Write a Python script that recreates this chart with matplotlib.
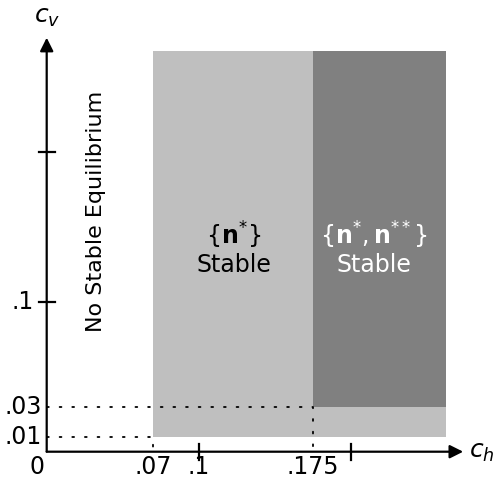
import matplotlib
matplotlib.use("Agg")
import matplotlib.pyplot as plt

plt.rcParams['font.family'] = ['DejaVu Sans']
plt.rcParams['mathtext.fontset'] = 'dejavusans'

# ---- data ----
x_label_vals = [0.07, 0.1, 0.175]
x_label_txt = ['.07', '.1', '.175']
x_tick_marks = [0.1, 0.2]
y_label_vals = [0.01, 0.03, 0.1]
y_label_txt = ['.01', '.03', '.1']
y_tick_marks = [0.1, 0.2]
x_axis_end = 0.274
y_axis_end = 0.276

# regions: (x0, x1, y0, y1)
light_region = (0.07, 0.2625, 0.01, 0.267)
dark_region = (0.175, 0.2625, 0.03, 0.267)
light_color = '#bfbfbf'
dark_color = '#808080'

# dotted guides: (x_end, y_level)
guides = [(0.07, 0.01), (0.175, 0.03)]

fig = plt.figure(figsize=(4.95, 4.87), dpi=100)
ax = fig.add_axes([0, 0, 1, 1])
ax.set_xlim(-46.7 / 1520, (495 - 46.7) / 1520)
ax.set_ylim((451.7 - 487) / 1500, 451.7 / 1500)
ax.axis('off')

for (x0, x1, y0, y1), c in [(light_region, light_color), (dark_region, dark_color)]:
    ax.fill_between([x0, x1], y0, y1, color=c, lw=0, zorder=1)

for xe, yl in guides:
    ax.plot([0, xe, xe], [yl, yl, 0], color='black', lw=1.3,
            linestyle=(0, (1, 6)), dash_capstyle='round', zorder=2)

# axes with arrows
arrow = dict(arrowstyle='-|>,head_length=0.5,head_width=0.25', color='black',
             lw=1.6, mutation_scale=16, shrinkA=0, shrinkB=0)
ax.annotate('', xy=(x_axis_end, 0), xytext=(0, 0), arrowprops=arrow, zorder=5)
ax.annotate('', xy=(0, y_axis_end), xytext=(0, 0), arrowprops=arrow, zorder=5)

tx = 8 / 1500
for xv in x_tick_marks:
    ax.plot([xv, xv], [-tx, tx], color='black', lw=1.6, zorder=5)
ty = 8 / 1520
for yv in y_tick_marks:
    ax.plot([-ty, ty], [yv, yv], color='black', lw=1.6, zorder=5)

fs = 17
for xv, t in zip(x_label_vals, x_label_txt):
    ax.text(xv, -0.0105, t, ha='center', va='center', fontsize=fs)
ax.text(-0.0065, -0.0105, '0', ha='center', va='center', fontsize=fs)
for yv, t in zip(y_label_vals, y_label_txt):
    off = -0.0085 if yv in y_tick_marks else -0.003
    ax.text(off, yv, t, ha='right', va='center', fontsize=fs)

ax.text(0.2865, -0.0005, r'$c_h$', ha='center', va='center', fontsize=18)
ax.text(0.0, 0.29, r'$c_v$', ha='center', va='center', fontsize=18)

ax.text(0.0325, 0.16, 'No Stable Equilibrium', rotation=90, ha='center',
        va='center', fontsize=16)
ax.text(0.123, 0.1445, r'$\left\{\mathbf{n}^{*}\right\}$', ha='center',
        va='center', fontsize=17)
ax.text(0.123, 0.1245, 'Stable', ha='center', va='center', fontsize=17)
ax.text(0.2155, 0.1445, r'$\left\{\mathbf{n}^{*},\mathbf{n}^{**}\right\}$', ha='center',
        va='center', fontsize=17, color='white')
ax.text(0.2155, 0.1245, 'Stable', ha='center', va='center', fontsize=17, color='white')

fig.savefig('out.png', dpi=100)
